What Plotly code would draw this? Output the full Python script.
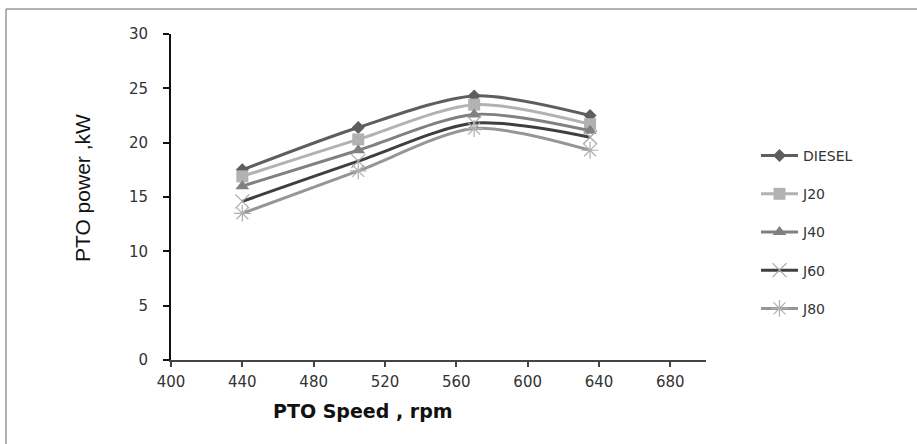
import plotly.graph_objects as go

speed = [440, 505, 570, 635]
diesel = [17.5, 21.4, 24.3, 22.5]
j20 = [16.9, 20.3, 23.5, 21.7]
j40 = [16.0, 19.3, 22.6, 21.1]
j60 = [14.6, 18.3, 21.8, 20.5]
j80 = [13.5, 17.4, 21.3, 19.3]

names = ["DIESEL", "J20", "J40", "J60", "J80"]
series = [diesel, j20, j40, j60, j80]
line_colors = ["#5e5e5e", "#b2b2b2", "#808080", "#3f3f3f", "#969696"]
marker_colors = ["#5e5e5e", "#b2b2b2", "#808080", "#a8a8a8", "#b0b0b0"]
symbols = ["diamond", "square", "triangle-up", "x-thin", "asterisk"]
sizes = [10, 12, 12, 14, 14]

fig = go.Figure()
for i, (n, s) in enumerate(zip(names, series)):
    thin = symbols[i] in ("x-thin", "asterisk")
    fig.add_trace(go.Scatter(
        x=speed, y=s, name=n, mode="lines+markers",
        line=dict(color=line_colors[i], width=3, shape="spline", smoothing=0.8),
        marker=dict(symbol=symbols[i], size=sizes[i], color=marker_colors[i],
                    line=dict(color=marker_colors[i], width=1.2 if thin else 0)),
        legendgroup=n,
    ))

L, R, T, B = 171, 706, 34, 360
PW, PH = R - L, B - T

fig.update_layout(
    width=917, height=444,
    margin=dict(l=L, r=917 - R, t=T, b=444 - B),
    paper_bgcolor="white", plot_bgcolor="white",
    font=dict(family="DejaVu Sans", size=15, color="#222"),
    showlegend=True,
    legend=dict(x=(756 - L) / PW, y=(B - 140) / PH, xanchor="left", yanchor="top",
                font=dict(family="DejaVu Sans", size=14, color="#333"),
                traceorder="grouped", tracegroupgap=17, itemwidth=37,
                bgcolor="rgba(0,0,0,0)"),
    xaxis=dict(range=[400, 700], dtick=40, tick0=400, showgrid=False, zeroline=False,
               showline=True, linecolor="#444", linewidth=2,
               ticks="outside", ticklen=5, tickwidth=2, tickcolor="#444",
               tickfont=dict(family="DejaVu Sans", size=15, color="#333"),
               ticklabelstandoff=2),
    yaxis=dict(range=[0, 30], dtick=5, showgrid=False, zeroline=False,
               showline=True, linecolor="#111", linewidth=2,
               ticks="outside", ticklen=6, tickwidth=2, tickcolor="#111",
               tickfont=dict(family="DejaVu Sans", size=15, color="#333"),
               ticklabelstandoff=12),
)

fig.add_annotation(text="PTO Speed , rpm", xref="paper", yref="paper",
                   x=(363 - L) / PW, y=-(411 - B) / PH, xanchor="center", yanchor="middle",
                   showarrow=False,
                   font=dict(family="DejaVu Sans", size=19, color="#111", weight="bold"))
fig.add_annotation(text="PTO power ,kW", xref="paper", yref="paper",
                   x=(82 - L) / PW, y=(B - 188) / PH, xanchor="center", yanchor="middle",
                   textangle=-90, showarrow=False,
                   font=dict(family="Liberation Sans Narrow, Liberation Sans", size=21, color="#111"))

# outer frame (left and top edges)
fx0 = (6 - L) / PW
fy1 = (B - 9) / PH
fig.add_shape(type="line", xref="paper", yref="paper",
              x0=fx0, x1=fx0, y0=(B - 444) / PH, y1=fy1,
              line=dict(color="#999", width=1.5))
fig.add_shape(type="line", xref="paper", yref="paper",
              x0=fx0, x1=(917 - L) / PW, y0=fy1, y1=fy1,
              line=dict(color="#999", width=1.5))

fig.write_html("out.html", config={"displayModeBar": False},
               post_script="document.body.style.margin='0';")
